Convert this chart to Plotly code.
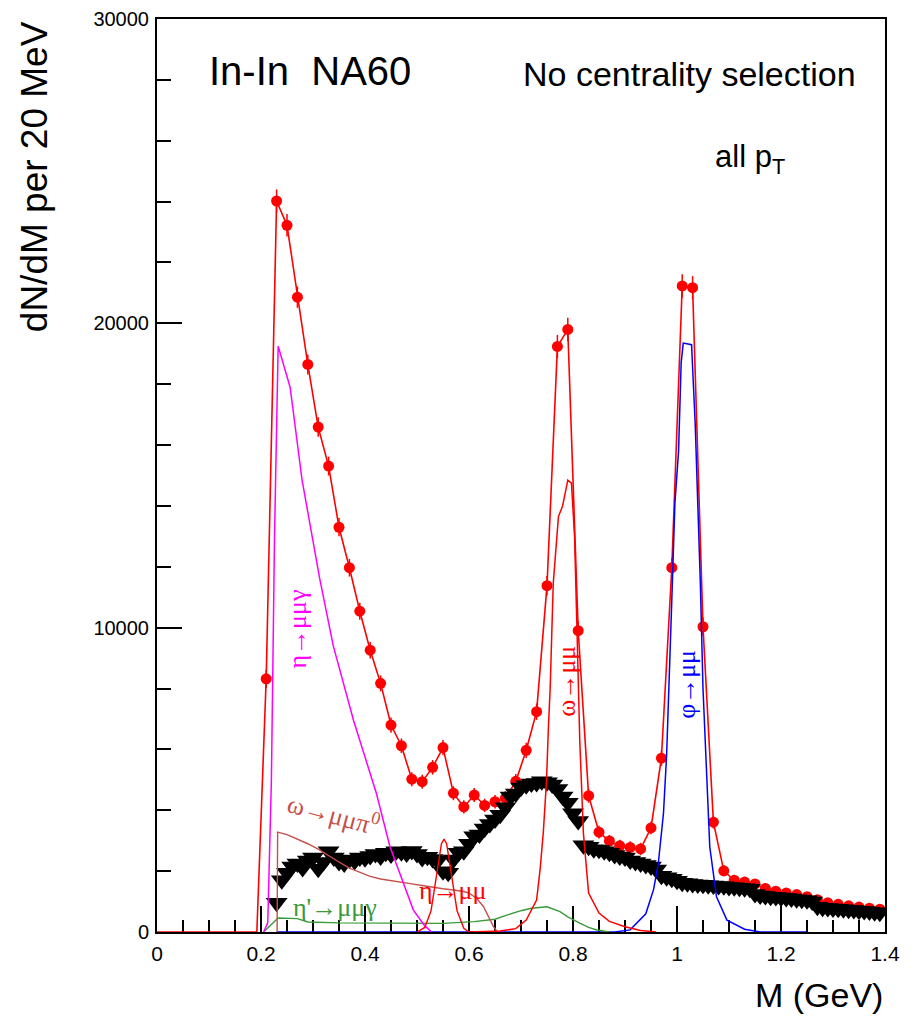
import plotly.graph_objects as go

# ---------------- data ----------------
# measured dimuon spectrum (20 MeV bins)
data_m = [0.21, 0.23, 0.25, 0.27, 0.29, 0.31, 0.33, 0.35, 0.37, 0.39,
          0.41, 0.43, 0.45, 0.47, 0.49, 0.51, 0.53, 0.55, 0.57, 0.59,
          0.61, 0.63, 0.65, 0.67, 0.69, 0.71, 0.73, 0.75, 0.77, 0.79,
          0.81, 0.83, 0.85, 0.87, 0.89, 0.91, 0.93, 0.95, 0.97, 0.99,
          1.01, 1.03, 1.05, 1.07, 1.09, 1.11, 1.13, 1.15, 1.17, 1.19,
          1.21, 1.23, 1.25, 1.27, 1.29, 1.31, 1.33, 1.35, 1.37, 1.39]
data_n = [8320, 24020, 23220, 20860, 18650, 16590, 15310, 13300, 11970, 10540,
          9260, 8170, 6800, 6120, 5020, 4940, 5410, 6060, 4560, 4110,
          4500, 4160, 4280, 4400, 4950, 5970, 7240, 11380, 19240, 19800,
          9900, 4480, 3280, 2990, 2830, 2780, 2730, 3420, 5710, 11970,
          21230, 21170, 10030, 3610, 2010, 1700, 1640, 1580, 1430, 1340,
          1280, 1230, 1160, 1060, 960, 910, 860, 820, 780, 750]
data_err = [300, 380, 370, 350, 330, 320, 310, 300, 290, 280,
            270, 260, 250, 240, 230, 230, 240, 250, 230, 220,
            230, 220, 220, 230, 240, 250, 270, 320, 380, 380,
            300, 230, 210, 200, 200, 200, 200, 210, 250, 320,
            380, 380, 300, 210, 180, 170, 170, 160, 160, 150,
            150, 150, 140, 140, 130, 130, 130, 120, 120, 120]

# leading edge of the total line
lead_m = [0.0, 0.192]
lead_n = [0, 0]

# excess (black triangles, 10 MeV steps)
excess_m = [round(0.23 + 0.01 * i, 2) for i in range(117)]
excess_n = [960, 1700, 1950, 2150, 2250, 2100, 2350, 2450, 2080, 2300,
            2650, 2450, 2300, 2250, 2380, 2330, 2450, 2420, 2500, 2560,
            2480, 2600, 2550, 2650, 2620, 2580, 2660, 2560, 2430, 2470,
            2400, 2350, 2000, 1950, 2380, 2600, 2650, 2900, 3150, 3200,
            3400, 3550, 3700, 3850, 4100, 4450, 4550, 4750, 4820, 4880,
            4900, 4950, 4920, 4850, 4700, 4450, 4250, 3900, 3650, 2850,
            2800, 2720, 2700, 2650, 2600, 2530, 2480, 2450, 2350, 2300,
            2250, 2200, 2150, 2050, 1850, 1800, 1750, 1680, 1620, 1600,
            1580, 1560, 1550, 1540, 1530, 1510, 1500, 1480, 1470, 1450,
            1440, 1420, 1250, 1200, 1180, 1160, 1150, 1130, 1120, 1100,
            1080, 1060, 1040, 1000, 830, 800, 790, 770, 760, 750,
            730, 720, 700, 690, 670, 650, 630]

# cocktail components
eta_dal_m = [0.205, 0.213, 0.22, 0.226, 0.233, 0.256, 0.279, 0.313, 0.339, 0.378,
             0.422, 0.448, 0.493, 0.515, 0.528]
eta_dal_n = [0, 300, 5000, 13000, 19250, 17900, 14850, 11600, 9400, 6950,
             4550, 2800, 720, 200, 0]

omega_dal_m = [0.231, 0.232, 0.25, 0.27, 0.29, 0.31, 0.33, 0.35, 0.37, 0.39,
               0.41, 0.43, 0.45, 0.47, 0.49, 0.51, 0.53, 0.55, 0.57, 0.59,
               0.60, 0.615, 0.628, 0.64, 0.647, 0.655]
omega_dal_n = [0, 3280, 3200, 3050, 2900, 2720, 2500, 2300, 2100, 1960,
               1830, 1740, 1680, 1620, 1580, 1530, 1470, 1420, 1380, 1330,
               1280, 1100, 830, 420, 175, 0]

etap_dal_m = [0.205, 0.233, 0.27, 0.29, 0.35, 0.45, 0.55, 0.61, 0.65, 0.67,
              0.70, 0.72, 0.75, 0.775, 0.79, 0.813, 0.83, 0.846, 0.87]
etap_dal_n = [0, 460, 440, 330, 300, 285, 285, 340, 420, 540,
              700, 780, 830, 670, 500, 290, 150, 66, 0]

eta_mm_m = [0.50, 0.515, 0.527, 0.537, 0.547, 0.552, 0.557, 0.567, 0.577, 0.59, 0.60]
eta_mm_n = [0, 150, 700, 1800, 2900, 3050, 2900, 1800, 700, 120, 0]

omega_m = [0.60, 0.66, 0.69, 0.71, 0.73, 0.737, 0.743, 0.749, 0.753, 0.756,
           0.762, 0.772, 0.78, 0.79, 0.797, 0.803, 0.808, 0.813, 0.82, 0.83,
           0.85, 0.87, 0.90, 0.93, 0.96]
omega_n = [0, 30, 110, 390, 1050, 2100, 3300, 4950, 6850, 7950,
           11450, 13650, 14000, 14850, 14750, 13000, 9700, 6300, 3250, 1280,
           620, 350, 170, 50, 0]

phi_m = [0.23, 0.88, 0.91, 0.94, 0.955, 0.964, 0.974, 0.98, 0.99, 0.996,
         1.003, 1.008, 1.012, 1.028, 1.035, 1.041, 1.045, 1.05, 1.057, 1.063,
         1.076, 1.096, 1.13, 1.16, 1.25]
phi_n = [0, 0, 70, 600, 1400, 2250, 3900, 5800, 10900, 14100,
         15800, 18700, 19350, 19300, 16700, 13600, 11400, 8000, 5000, 2800,
         1160, 390, 90, 0, 0]

x_tickvals = [0, 0.2, 0.4, 0.6, 0.8, 1.0, 1.2, 1.4]
x_ticktext = ["0", "0.2", "0.4", "0.6", "0.8", "1", "1.2", "1.4"]
y_tickvals = [0, 10000, 20000, 30000]
y_ticktext = ["0", "10000", "20000", "30000"]

# ---------------- figure ----------------
RED = "#ff0000"
MAG = "#ff00ff"
BLUE = "#0000ff"
GREEN = "#3a9a3a"
BROWN = "#c8504a"
FONT = "Liberation Sans"
GFONT = "Liberation Serif"

fig = go.Figure()

# total line through the data
fig.add_trace(go.Scatter(x=lead_m + data_m, y=lead_n + data_n, mode="lines",
                         line=dict(color=RED, width=1.6), hoverinfo="skip"))
# data points
fig.add_trace(go.Scatter(x=data_m, y=data_n, mode="markers",
                         marker=dict(color=RED, size=11, symbol="circle"),
                         error_y=dict(type="data", array=data_err, color=RED,
                                      thickness=1.5, width=0)))
# excess
fig.add_trace(go.Scatter(x=excess_m, y=excess_n, mode="markers",
                         marker=dict(color="black", size=19, symbol="triangle-down",
                                     line=dict(width=0))))
# components
fig.add_trace(go.Scatter(x=phi_m, y=phi_n, mode="lines", line=dict(color=BLUE, width=1.5)))
fig.add_trace(go.Scatter(x=etap_dal_m, y=etap_dal_n, mode="lines", line=dict(color=GREEN, width=1.4)))
fig.add_trace(go.Scatter(x=omega_dal_m, y=omega_dal_n, mode="lines", line=dict(color=BROWN, width=1.4)))
fig.add_trace(go.Scatter(x=eta_dal_m, y=eta_dal_n, mode="lines", line=dict(color=MAG, width=1.5)))
fig.add_trace(go.Scatter(x=eta_mm_m, y=eta_mm_n, mode="lines", line=dict(color=RED, width=1.4)))
fig.add_trace(go.Scatter(x=omega_m, y=omega_n, mode="lines", line=dict(color=RED, width=1.5)))

ann = []
def add_text(text, x, y, size, color="black", angle=0, xanchor="center", yanchor="middle",
             family=FONT, xref="x", yref="y"):
    ann.append(dict(text=text, x=x, y=y, xref=xref, yref=yref, showarrow=False,
                    font=dict(size=size, color=color, family=family),
                    textangle=angle, xanchor=xanchor, yanchor=yanchor))

add_text("In-In  NA60", 0.096, 28290, 40, xanchor="left")
add_text("No centrality selection", 0.70, 28190, 34, xanchor="left")
add_text("all p<sub>T</sub>", 1.069, 25400, 31, xanchor="left")

add_text("η→μμγ", 0.271, 9970, 26, MAG, angle=-90, family=GFONT)
add_text("ω→μμ", 0.788, 8250, 26, RED, angle=-90, family=GFONT)
add_text("φ→μμ", 1.019, 8150, 26, BLUE, angle=-90, family=GFONT)
add_text("ω→μμπ<sup>0</sup>", 0.34, 3900, 26, BROWN, angle=15, family=GFONT)
add_text("η→μμ", 0.569, 1380, 26, RED, family=GFONT)
add_text("η'→μμγ", 0.342, 790, 26, GREEN, family=GFONT)

# axis titles
add_text("dN/dM per 20 MeV", -0.168, 1.0, 37, angle=-90, yanchor="top",
         xref="paper", yref="paper")
add_text("M (GeV)", 1.0, -0.069, 34, xanchor="right", xref="paper", yref="paper")

# page has an 8 px body margin; margins below compensate so the frame sits where it should
fig.update_layout(
    width=903, height=1026,
    margin=dict(l=149, r=26, t=11, b=102, autoexpand=False),
    paper_bgcolor="white", plot_bgcolor="white",
    showlegend=False,
    font=dict(family=FONT, color="black"),
    annotations=ann,
)
fig.update_xaxes(range=[0, 1.4], tickmode="array", tickvals=x_tickvals, ticktext=x_ticktext,
                 ticks="inside", ticklen=26, tickwidth=1.5, tickcolor="black",
                 tickfont=dict(size=21, family=FONT, color="black"),
                 minor=dict(tick0=0, dtick=0.05, ticks="inside", ticklen=12,
                            tickwidth=1.5, tickcolor="black"),
                 showgrid=False, zeroline=False, showline=True, linecolor="black",
                 linewidth=2, mirror=True, layer="below traces", ticklabelstandoff=2,
                 automargin=False, ticklabeloverflow="allow")
fig.update_yaxes(range=[0, 30000], tickmode="array", tickvals=y_tickvals, ticktext=y_ticktext,
                 ticks="inside", ticklen=25, tickwidth=1.5, tickcolor="black",
                 tickfont=dict(size=20, family=FONT, color="black"),
                 minor=dict(tick0=0, dtick=2000, ticks="inside", ticklen=14,
                            tickwidth=1.5, tickcolor="black"),
                 showgrid=False, zeroline=False, showline=True, linecolor="black",
                 linewidth=2, mirror=True, layer="below traces", ticklabelstandoff=2,
                 automargin=False, ticklabeloverflow="allow")

fig.write_html("out.html")
